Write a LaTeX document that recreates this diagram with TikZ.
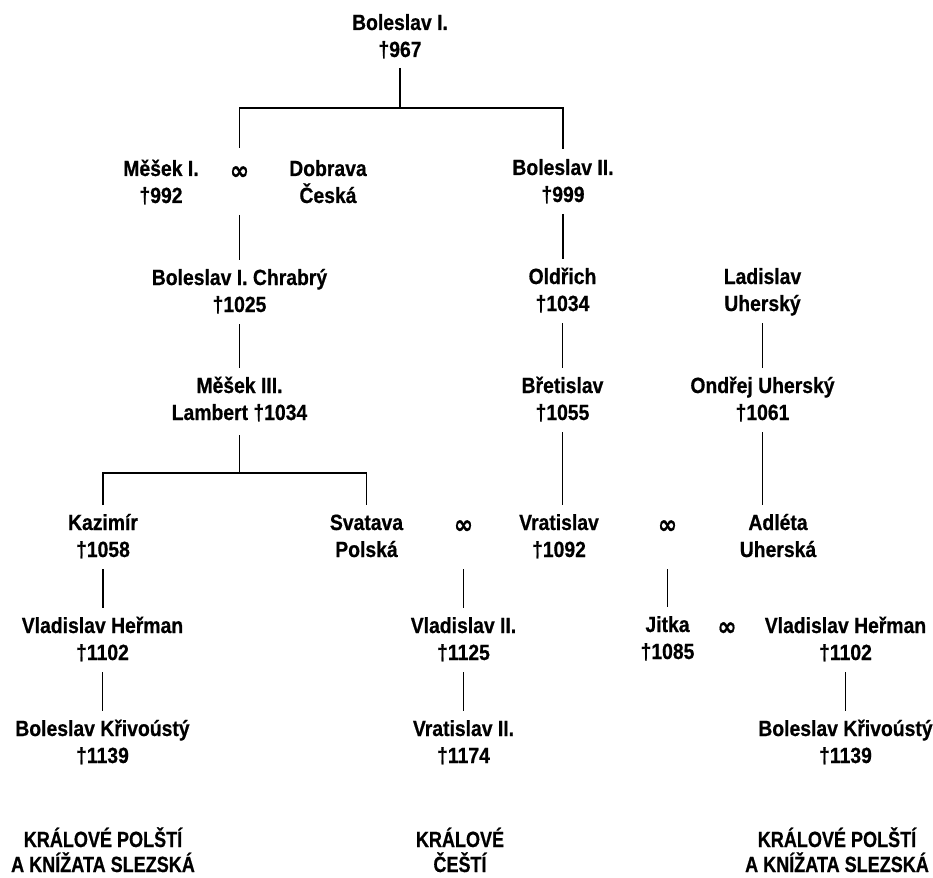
\documentclass[tikz,border=0pt]{standalone}
\usepackage{fontspec}
\usepackage{graphicx}
\setmainfont{Liberation Sans}[FakeStretch=0.88,BoldFeatures={FakeBold=0.6}]
\newfontfamily\labfont{Liberation Sans}[FakeStretch=0.82,BoldFeatures={FakeBold=0.6}]
\newfontfamily\symfont{DejaVu Sans}[BoldFeatures={FakeBold=0.6}]
\newcommand\marr{\raisebox{-3.5pt}{\symfont\scalebox{1.05}[1.2]{∞}}}
\newcommand\twol[2]{\vtop{\baselineskip=27pt\lineskiplimit=-100pt\lineskip=0pt\halign{\hfil##\hfil\cr\smash{#1}\vrule height 15pt depth 5pt width 0pt\cr\smash{#2}\vrule height 15pt depth 5pt width 0pt\cr}}}
\newcommand\twolab[2]{\vtop{\labfont\baselineskip=25pt\lineskiplimit=-100pt\lineskip=0pt\halign{\hfil##\hfil\cr\smash{#1}\vrule height 15pt depth 5pt width 0pt\cr\smash{#2}\vrule height 15pt depth 5pt width 0pt\cr}}}
\begin{document}
\begin{tikzpicture}[x=1pt,y=-1pt,
  person/.style={inner sep=0pt,outer sep=0pt,anchor=base,font=\fontsize{22pt}{27pt}\selectfont\bfseries},
  conn/.style={line width=1.4pt,shorten <=7pt,shorten >=10.5pt},
  bar/.style={line width=1.4pt}]
\useasboundingbox (0,0) rectangle (933,877);
% row 0
\node[person] (b1) at (400,30) {\twol{Boleslav I.}{†967}};
% row 1
\node[person] (m1) at (161,176) {\twol{Měšek I.}{†992}};
\node[person] (mar1) at (239.5,176) {\twol{\marr}{}};
\node[person] (dob) at (328,176) {\twol{Dobrava}{Česká}};
\node[person] (b2) at (563,175) {\twol{Boleslav II.}{†999}};
% row 2
\node[person] (chr) at (239.5,285) {\twol{Boleslav I. Chrabrý}{†1025}};
\node[person] (old) at (562.5,284) {\twol{Oldřich}{†1034}};
\node[person] (lad) at (762.5,284) {\twol{Ladislav}{Uherský}};
% row 3
\node[person] (m3) at (239.5,393) {\twol{Měšek III.}{Lambert †1034}};
\node[person] (bre) at (562.5,393) {\twol{Břetislav}{†1055}};
\node[person] (ond) at (762.5,393) {\twol{Ondřej Uherský}{†1061}};
% row 4
\node[person] (kaz) at (103,530) {\twol{Kazimír}{†1058}};
\node[person] (sva) at (366.5,530) {\twol{Svatava}{Polská}};
\node[person] (mar2) at (463.5,530) {\twol{\marr}{}};
\node[person] (vra) at (559,530) {\twol{Vratislav}{†1092}};
\node[person] (mar3) at (667.5,530) {\twol{\marr}{}};
\node[person] (adl) at (778,530) {\twol{Adléta}{Uherská}};
% row 5
\node[person] (vh1) at (102.5,633) {\twol{Vladislav Heřman}{†1102}};
\node[person] (vl2) at (463.5,633) {\twol{Vladislav II.}{†1125}};
\node[person] (jit) at (667.5,632) {\twol{Jitka}{†1085}};
\node[person] (mar4) at (727,632) {\twol{\marr}{}};
\node[person] (vh2) at (845.5,633) {\twol{Vladislav Heřman}{†1102}};
% row 6
\node[person] (bk1) at (102.5,736) {\twol{Boleslav Křivoústý}{†1139}};
\node[person] (vr2) at (463.5,736) {\twol{Vratislav II.}{†1174}};
\node[person] (bk2) at (845.5,736) {\twol{Boleslav Křivoústý}{†1139}};
% labels
\node[person] (lab1) at (103,847) {\twolab{KRÁLOVÉ POLŠTÍ}{A KNÍŽATA SLEZSKÁ}};
\node[person] (lab2) at (460,847) {\twolab{KRÁLOVÉ}{ČEŠTÍ}};
\node[person] (lab3) at (837,847) {\twolab{KRÁLOVÉ POLŠTÍ}{A KNÍŽATA SLEZSKÁ}};
% bars
\coordinate (bar1) at (400,108);
\coordinate (bar2) at (239.5,473);
\draw[bar,shorten <=6pt] (b1.south) -- (b1.south |- bar1);
\draw[bar,shorten <=13pt,shorten >=11pt] (mar1.north) |- (bar1) -| (b2.north);
\draw[bar,shorten <=10pt] (m3.south) -- (m3.south |- bar2);
\draw[bar,shorten <=10pt,shorten >=10pt] (kaz.north) |- (bar2) -| (sva.north);
% vertical descents
\draw[conn] (mar1.south) -- (mar1.south |- chr.north);
\draw[conn] (chr.south) -- (chr.south |- m3.north);
\draw[conn] (b2.south) -- (b2.south |- old.north);
\draw[conn] (old.south) -- (old.south |- bre.north);
\draw[conn] (bre.south) -- (bre.south |- vra.north);
\draw[conn] (lad.south) -- (lad.south |- ond.north);
\draw[conn] (ond.south) -- (ond.south |- adl.north);
\draw[conn] (kaz.south) -- (kaz.south |- vh1.north);
\draw[conn] (vh1.south) -- (vh1.south |- bk1.north);
\draw[conn] (mar2.south) -- (mar2.south |- vl2.north);
\draw[conn] (vl2.south) -- (vl2.south |- vr2.north);
\draw[conn] (mar3.south) -- (mar3.south |- jit.north);
\draw[conn] (vh2.south) -- (vh2.south |- bk2.north);
\end{tikzpicture}
\end{document}
